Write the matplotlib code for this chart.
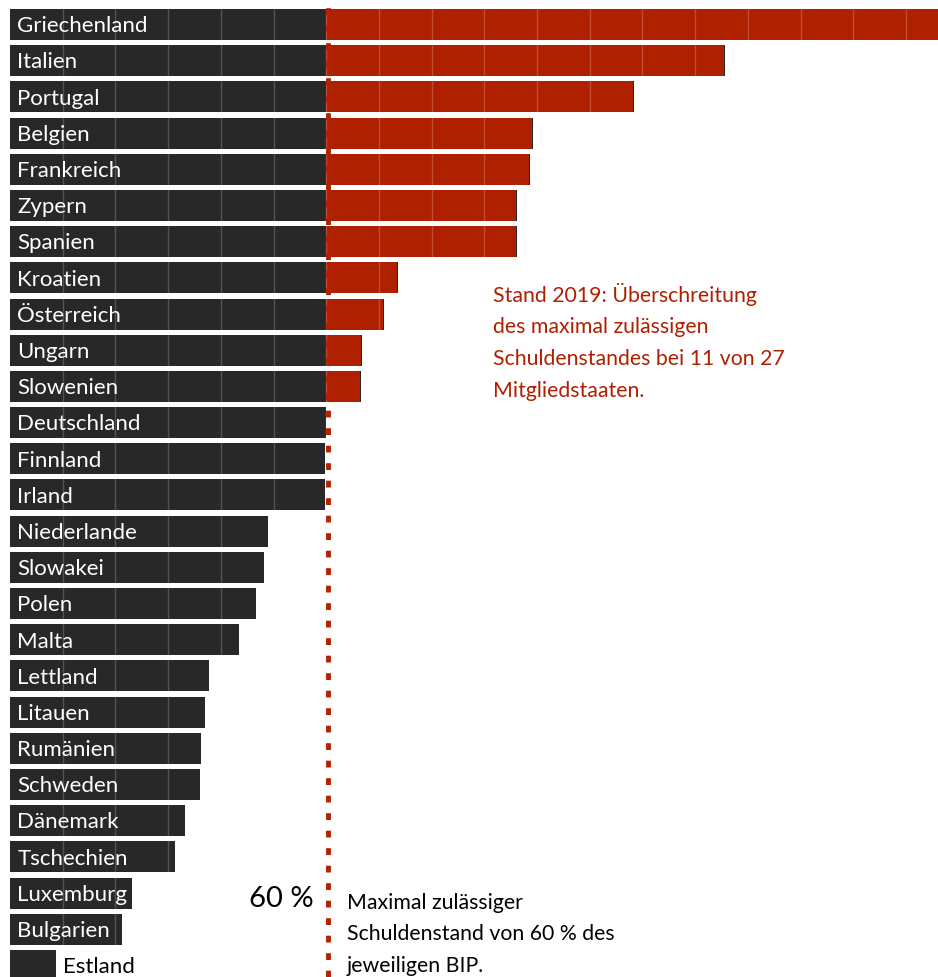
import numpy as np
import matplotlib
matplotlib.use("Agg")
import matplotlib.pyplot as plt

# Staatsverschuldung 2019 in % des BIP
laender = ["Griechenland", "Italien", "Portugal", "Belgien", "Frankreich", "Zypern",
           "Spanien", "Kroatien", "Österreich", "Ungarn", "Slowenien", "Deutschland",
           "Finnland", "Irland", "Niederlande", "Slowakei", "Polen", "Malta",
           "Lettland", "Litauen", "Rumänien", "Schweden", "Dänemark", "Tschechien",
           "Luxemburg", "Bulgarien", "Estland"]
schulden = [180.5, 135.7, 118.4, 99.2, 98.7, 96.2, 96.2, 73.6, 71.0, 66.8, 66.6, 59.9,
            59.7, 59.7, 49.0, 48.2, 46.7, 43.4, 37.8, 37.0, 36.2, 36.0, 33.2, 31.3,
            23.1, 21.2, 8.7]
grenze = 60

text_rot = ["Stand 2019: Überschreitung", "des maximal zulässigen",
            "Schuldenstandes bei 11 von 27", "Mitgliedstaaten."]
text_schwarz = ["Maximal zulässiger", "Schuldenstand von 60 % des", "jeweiligen BIP."]

dunkel = '#282828'
rot = '#ae2000'

plt.rcParams['font.family'] = ['Lato', 'DejaVu Sans']

fig = plt.figure(figsize=(9.38, 9.77), dpi=100)
ax = fig.add_axes([0, 0, 1, 1])
px = 5.27  # pixel pro Prozent
ax.set_xlim(-10 / px, 928 / px)
ax.set_ylim((977 - 24.5) / 36.19, -24.5 / 36.19)
ax.axis('off')

y = np.arange(len(laender))
ax.barh(y, schulden, height=0.857, color=dunkel, zorder=1)
ueber = [max(0, s - grenze - 0.2) for s in schulden]
ax.barh(y, ueber, left=grenze, height=0.857, color=rot, zorder=2)

for g in range(10, 180, 10):
    ax.axvline(g, color='white', alpha=0.2, lw=1, zorder=3)

ax.axvline(grenze + 0.3, color='#b42000', lw=3.5, linestyle=(0, (1.4, 2.2)),
           dash_capstyle='butt', zorder=4)

for i, (land, s) in enumerate(zip(laender, schulden)):
    if s > 15:
        ax.text(1.4, i + 0.05, land, color='white', fontsize=16, va='center', ha='left', zorder=5)
    else:
        ax.text(s + 1.3, i + 0.05, land, color='black', fontsize=16, va='center', ha='left', zorder=5)

ax.text(57.6, 24.17, "60 %", fontsize=21, va='center', ha='right', color='black')

for k, zeile in enumerate(text_schwarz):
    ax.text(63.9, 24.27 + k * 0.87, zeile, fontsize=15.3, va='center', ha='left', color='black')

for k, zeile in enumerate(text_rot):
    ax.text(91.6, 7.47 + k * 0.884, zeile, fontsize=15.3, va='center', ha='left', color=rot)

fig.savefig('out.png', dpi=100)
